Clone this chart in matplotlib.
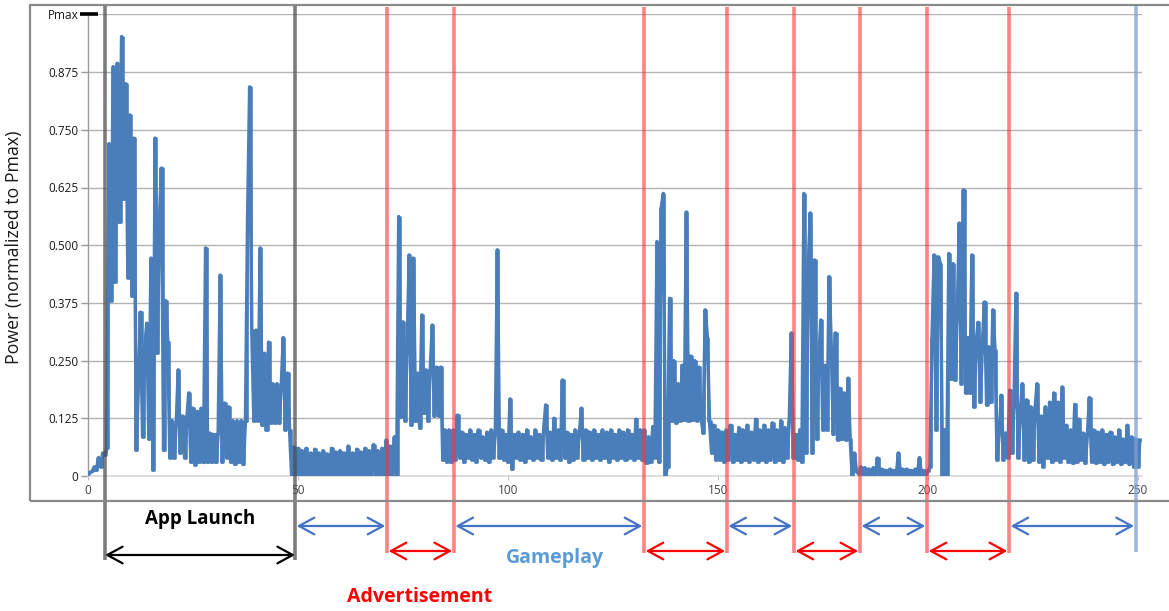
import numpy as np
import matplotlib
matplotlib.use('Agg')
import matplotlib.pyplot as plt
from matplotlib import transforms
from matplotlib.patches import Rectangle

# ---------------- data (normalized power, one sample every 0.5 time units) -------------
sample_step = 0.5

launch_power = [
    0.005, 0.008, 0.010, 0.020, 0.012, 0.040, 0.020, 0.050, 0.045, 0.060,
    0.720, 0.380, 0.887, 0.420, 0.894, 0.550, 0.952, 0.600, 0.850, 0.430,
    0.782, 0.390, 0.732, 0.056, 0.200, 0.355, 0.085, 0.277, 0.331, 0.080,
    0.472, 0.013, 0.732, 0.266, 0.555, 0.667, 0.056, 0.380, 0.290, 0.040,
    0.120, 0.040, 0.110, 0.230, 0.050, 0.130, 0.040, 0.120, 0.180, 0.030,
    0.147, 0.024, 0.140, 0.030, 0.147, 0.030, 0.494, 0.030, 0.093, 0.030,
    0.090, 0.030, 0.093, 0.435, 0.030, 0.158, 0.040, 0.150, 0.030, 0.120,
    0.025, 0.120, 0.030, 0.120, 0.025, 0.120, 0.555, 0.843, 0.316, 0.120,
    0.316, 0.120, 0.494, 0.110, 0.266, 0.100, 0.290, 0.115, 0.200, 0.115,
    0.200, 0.115, 0.190, 0.300, 0.100, 0.223, 0.100, 0.000, 0.063, 0.000,
]
idle_power = [
    0.060, 0.003, 0.055, 0.003, 0.060, 0.003, 0.050, 0.003, 0.058, 0.003,
    0.050, 0.003, 0.055, 0.003, 0.048, 0.003, 0.060, 0.003, 0.052, 0.003,
    0.055, 0.003, 0.050, 0.003, 0.065, 0.003, 0.050, 0.003, 0.058, 0.003,
    0.052, 0.003, 0.060, 0.003, 0.055, 0.003, 0.068, 0.003, 0.055, 0.003,
    0.060, 0.003, 0.078, 0.003, 0.065, 0.003, 0.085, 0.003,
]
ad1_power = [
    0.562, 0.128, 0.334, 0.120, 0.280, 0.479, 0.110, 0.472, 0.120, 0.223,
    0.104, 0.349, 0.136, 0.230, 0.120, 0.230, 0.327, 0.130, 0.236, 0.130,
    0.236, 0.035, 0.100, 0.030, 0.100, 0.030,
]
game1_power = [
    0.100, 0.035, 0.132, 0.040, 0.095, 0.030, 0.090, 0.040, 0.100, 0.035,
    0.090, 0.030, 0.100, 0.040, 0.085, 0.035, 0.095, 0.030, 0.100, 0.040,
    0.090, 0.490, 0.040, 0.100, 0.035, 0.090, 0.030, 0.167, 0.015, 0.090,
    0.040, 0.095, 0.035, 0.090, 0.030, 0.100, 0.040, 0.085, 0.035, 0.100,
    0.040, 0.090, 0.035, 0.100, 0.154, 0.040, 0.095, 0.035, 0.125, 0.040,
    0.100, 0.035, 0.208, 0.040, 0.095, 0.030, 0.090, 0.035, 0.100, 0.040,
    0.090, 0.147, 0.035, 0.100, 0.040, 0.095, 0.035, 0.100, 0.040, 0.090,
    0.035, 0.100, 0.040, 0.095, 0.030, 0.100, 0.040, 0.090, 0.035, 0.100,
    0.040, 0.095, 0.035, 0.100, 0.040, 0.090, 0.035, 0.123, 0.040, 0.100,
    0.035, 0.100,
]
ad2_power = [
    0.028, 0.085, 0.030, 0.107, 0.040, 0.508, 0.030, 0.580, 0.612, 0.000,
    0.020, 0.385, 0.120, 0.250, 0.115, 0.200, 0.120, 0.240, 0.121, 0.572,
    0.120, 0.260, 0.121, 0.250, 0.120, 0.236, 0.125, 0.093, 0.360, 0.300,
    0.120, 0.050, 0.110, 0.035, 0.100, 0.035, 0.095, 0.030,
]
game2_power = [
    0.100, 0.035, 0.110, 0.030, 0.090, 0.035, 0.105, 0.030, 0.100, 0.035,
    0.110, 0.030, 0.095, 0.035, 0.123, 0.030, 0.100, 0.035, 0.110, 0.030,
    0.100, 0.035, 0.115, 0.030, 0.100, 0.035, 0.120, 0.030, 0.105, 0.040,
    0.120, 0.310,
]
ad3_power = [
    0.040, 0.090, 0.035, 0.100, 0.030, 0.612, 0.050, 0.450, 0.570, 0.050,
    0.468, 0.080, 0.240, 0.338, 0.100, 0.240, 0.100, 0.432, 0.280, 0.090,
    0.310, 0.078, 0.190, 0.080, 0.180, 0.078, 0.212, 0.080, 0.000, 0.050,
    0.010, 0.005,
]
idle2_power = [
    0.020, 0.002, 0.018, 0.002, 0.015, 0.002, 0.018, 0.002, 0.039, 0.002,
    0.015, 0.002, 0.012, 0.002, 0.015, 0.002, 0.012, 0.002, 0.050, 0.002,
    0.015, 0.002, 0.015, 0.002, 0.012, 0.002, 0.015, 0.002, 0.040, 0.002,
    0.012, 0.005,
]
ad4_power = [
    0.010, 0.020, 0.300, 0.479, 0.100, 0.475, 0.460, 0.000, 0.100, 0.000,
    0.482, 0.210, 0.460, 0.208, 0.350, 0.548, 0.200, 0.620, 0.180, 0.300,
    0.180, 0.479, 0.150, 0.290, 0.333, 0.160, 0.290, 0.377, 0.154, 0.280,
    0.160, 0.360, 0.273, 0.035, 0.093, 0.175, 0.035, 0.093, 0.040, 0.186,
]
game3_power = [
    0.050, 0.150, 0.396, 0.040, 0.130, 0.200, 0.035, 0.165, 0.030, 0.150,
    0.035, 0.140, 0.200, 0.030, 0.130, 0.020, 0.150, 0.040, 0.160, 0.030,
    0.180, 0.035, 0.160, 0.030, 0.193, 0.040, 0.110, 0.030, 0.100, 0.028,
    0.155, 0.030, 0.123, 0.035, 0.093, 0.028, 0.090, 0.170, 0.030, 0.100,
    0.028, 0.095, 0.030, 0.100, 0.025, 0.090, 0.030, 0.095, 0.025, 0.085,
    0.030, 0.100, 0.025, 0.080, 0.030, 0.110, 0.025, 0.085, 0.020, 0.080,
    0.020, 0.078,
]

ytick_values = [0, 0.125, 0.25, 0.375, 0.5, 0.625, 0.75, 0.875, 1.0]
ytick_labels = ['0', '0.125', '0.250', '0.375', '0.500', '0.625', '0.750', '0.875', 'Pmax']
xtick_values = [0, 50, 100, 150, 200, 250]

launch_bounds = [4.05, 49.3]
ad_starts = [71.2, 132.4, 168.1, 199.8]
ad_ends = [87.1, 152.1, 183.8, 219.3]
trace_end = 249.5

# ---------------- figure ----------------
power = np.concatenate([launch_power, idle_power, ad1_power, game1_power, ad2_power,
                        game2_power, ad3_power, idle2_power, ad4_power, game3_power])
time = sample_step * np.arange(len(power))

W, H = 1169, 611
plt.rcParams['font.family'] = ['Open Sans', 'DejaVu Sans']
fig = plt.figure(figsize=(W / 100, H / 100), dpi=100)
fig.patch.set_facecolor('white')

ax = fig.add_axes([88 / W, 135 / H, 1054 / W, 461.6 / H])
ax.set_xlim(0, 251)
ax.set_ylim(0, 1.0)

# outer chart frame
fig.add_artist(Rectangle((30 / W, 110 / H), 1.2, 496 / H, transform=fig.transFigure,
                         fill=False, ec='#8a8a8a', lw=1.6))

for s in ['top', 'right']:
    ax.spines[s].set_visible(False)
ax.spines['left'].set_color('#9a9a9a')
ax.spines['left'].set_linewidth(1.0)
ax.spines['bottom'].set_color('#d9d9d9')
ax.spines['bottom'].set_linewidth(1.2)

ax.set_yticks(ytick_values)
ax.set_yticklabels(ytick_labels)
ax.set_xticks(xtick_values)
ax.set_xticklabels([str(v) for v in xtick_values])
ax.tick_params(axis='y', length=5, width=1, color='#9a9a9a', pad=2, labelsize=8.5,
               labelcolor='#1a1a1a')
ax.tick_params(axis='x', length=3, width=0.8, color='#bfbfbf', pad=3, labelsize=8.5,
               labelcolor='#404040')
ax.grid(axis='y', color='#b3b3b3', lw=1.0)
ax.set_axisbelow(True)

# Pmax dash
ax.plot([-8 / 1054, 10 / 1054], [1.0, 1.0], color='black', lw=2.6,
        transform=transforms.blended_transform_factory(ax.transAxes, ax.transData),
        clip_on=False, zorder=6, solid_capstyle='butt')

trace_color = '#4a7ebb'
ax.plot(time, power, color=trace_color, lw=2.5, zorder=3)
ax.plot(time, power, color=trace_color, lw=1.9, zorder=3, drawstyle='steps-mid')

fig.text(14 / W, (H - 247) / H, 'Power (normalized to Pmax)', rotation=90,
         ha='center', va='center', fontsize=12.8, color='#1a1a1a')

# vertical phase markers
trans = transforms.blended_transform_factory(ax.transData, fig.transFigure)
for xb in launch_bounds:
    ax.plot([xb, xb], [(H - 560) / H, (H - 5) / H], transform=trans, color='#505050',
            alpha=0.75, lw=2.6, clip_on=False, zorder=5, solid_capstyle='butt')
for xb in ad_starts + ad_ends:
    ax.plot([xb, xb], [(H - 553) / H, (H - 7) / H], transform=trans, color='#ff3030',
            alpha=0.6, lw=2.6, clip_on=False, zorder=5, solid_capstyle='butt')
ax.plot([trace_end, trace_end], [(H - 552) / H, (H - 5) / H], transform=trans,
        color='#7f9fd6', alpha=0.75, lw=2.6, clip_on=False, zorder=5, solid_capstyle='butt')


def span_arrow(x0, x1, ypix, color):
    ax.annotate('', xy=(x1, (H - ypix) / H), xytext=(x0, (H - ypix) / H),
                xycoords=trans, textcoords=trans, annotation_clip=False,
                arrowprops=dict(arrowstyle='<->,head_length=0.55,head_width=0.3',
                                color=color, lw=1.6, shrinkA=0, shrinkB=0,
                                mutation_scale=20))


span_arrow(launch_bounds[0], launch_bounds[1], 555, 'black')
game_starts = [launch_bounds[1]] + ad_ends
game_ends = ad_starts + [trace_end]
inset = 0.4
for g0, g1 in zip(game_starts, game_ends):
    span_arrow(g0 + inset, g1 - inset, 526, '#4472c4')
for a0, a1 in zip(ad_starts, ad_ends):
    span_arrow(a0 + inset, a1 - inset, 551, '#ff0000')

fig.text(200 / W, (H - 519) / H, 'App Launch', ha='center', va='center',
         fontsize=13.5, fontweight='bold', color='black')
fig.text(555 / W, (H - 558) / H, 'Gameplay', ha='center', va='center',
         fontsize=14, fontweight='bold', color='#5b9bd5')
fig.text(420 / W, (H - 597) / H, 'Advertisement', ha='center', va='center',
         fontsize=14, fontweight='bold', color='#ff0000')

fig.savefig('out.png', dpi=100)
